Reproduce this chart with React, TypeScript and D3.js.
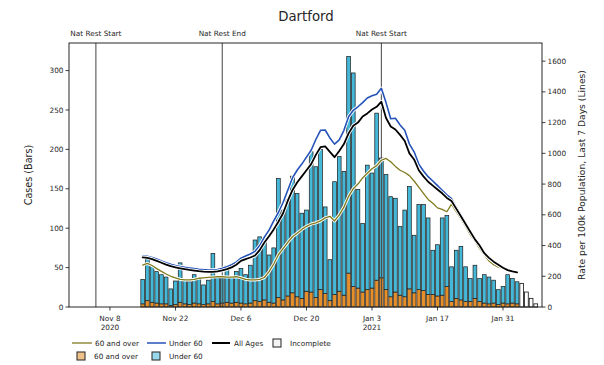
import React from 'react';
import * as d3 from 'd3';

// ---------- data ----------
const BAR_START = '2020-11-15';
const BAR_END = '2021-02-07';
const INCOMPLETE_FROM = '2021-02-04';

const casesUnder60 = [
  31, 53, 46, 40, 37, 34, 21, 30, 50, 31, 29, 36, 33, 25, 30, 61, 35, 33, 46, 33, 39,
  44, 37, 48, 77, 82, 74, 60, 70, 151, 114, 122, 148, 131, 108, 103, 178, 166, 178, 110,
  52, 143, 171, 157, 275, 271, 125, 87, 158, 146, 212, 152, 146, 127, 119, 87, 110, 130,
  73, 108, 109, 97, 56, 65, 98, 90, 44, 61, 68, 44, 29, 42, 29, 36, 34, 29, 19, 21, 37,
  31, 28, 27, 17, 9, 3,
];
const cases60Over = [
  4, 8, 6, 5, 4, 4, 2, 3, 6, 4, 3, 5, 4, 3, 4, 7, 4, 5, 6, 5, 6,
  5, 4, 5, 8, 7, 9, 6, 5, 12, 9, 14, 18, 13, 11, 20, 19, 12, 22, 17,
  8, 16, 20, 15, 43, 26, 24, 19, 22, 24, 34, 37, 22, 13, 19, 15, 13, 23,
  18, 22, 21, 16, 16, 14, 15, 26, 7, 11, 9, 7, 7, 11, 7, 5, 4, 5, 3, 5, 4,
  5, 4, 3, 2, 2, 1,
];

const LINE_START = '2020-11-15';
const LINE_END = '2021-02-03';
const rateAllAges = [
  323, 320, 312, 300, 288, 276, 266, 258, 252, 246, 241, 237, 233, 230, 229, 229, 232, 238,
  246, 258, 275, 300, 312, 322, 335, 370, 420, 460, 505, 555, 610, 690, 760, 810, 850, 890,
  930, 990, 1040, 1045, 1010, 975, 1015, 1060, 1130, 1180, 1200, 1240, 1260, 1285, 1303,
  1336, 1230, 1175, 1155, 1120, 1080, 1000, 960, 890, 850, 815, 790, 765, 740, 710, 690,
  640, 590, 540, 490, 440, 400, 350, 320, 295, 275, 255, 240, 232, 225,
];
const rateUnder60 = [
  332, 330, 322, 312, 300, 288, 278, 270, 264, 258, 254, 250, 246, 243, 241, 241, 244, 252,
  262, 275, 292, 318, 332, 345, 362, 400, 455, 500, 560, 615, 680, 760, 840, 890, 930, 975,
  1020, 1090, 1150, 1152, 1100, 1060, 1087, 1150, 1238, 1280, 1303, 1330, 1360, 1375, 1385,
  1423, 1330, 1225, 1228, 1185, 1150, 1060, 1010, 930, 885, 848, 820, 790, 760, 730, 705,
  650, 600, 548, 495, 445, 402, 352, 320, 295, 273, 254, 238, 230, 224,
];
const rate60Over = [
  273, 284, 270, 250, 232, 215, 200, 190, 180, 176, 176, 180, 187, 190, 193, 195, 197, 197,
  195, 195, 197, 190, 180, 176, 176, 180, 192, 230, 280, 340, 380, 420, 457, 480, 505, 525,
  540, 548, 560, 580, 590, 560, 600, 650, 720, 770, 800, 840, 870, 900, 920,
  955, 967, 945, 915, 890, 875, 855, 820, 780, 740, 700, 675, 645, 635, 620, 670,
  620, 575, 525, 470, 430, 380, 340, 300, 275, 260, 250, 238, 228, 220,
];

const restrictionDates = ['2020-11-05', '2020-12-02', '2021-01-05'];
const restrictionLabels = ['Nat Rest Start', 'Nat Rest End', 'Nat Rest Start'];

const xTickDates = ['2020-11-08', '2020-11-22', '2020-12-06', '2020-12-20', '2021-01-03', '2021-01-17', '2021-01-31'];
const leftTicks = [0, 50, 100, 150, 200, 250, 300];
const rightTicks = [0, 200, 400, 600, 800, 1000, 1200, 1400, 1600];

// ---------- layout ----------
const W = 604;
const H = 365;
const PL = 69, PR = 542, PT = 43, PB = 307;
const FONT = 'DejaVu Sans, sans-serif';
const TXT = '#262626';

const C_UNDER = '#45b8d8';
const C_OVER = '#e48f2a';
const L_UNDER = '#2452b8';
const L_OVER = '#807a1c';
const L_ALL = '#000000';

const parse = d3.utcParse('%Y-%m-%d');

export default function App() {
  const x = d3
    .scaleUtc()
    .domain([new Date(Date.UTC(2020, 9, 30, 6)), new Date(Date.UTC(2021, 1, 8, 8))])
    .range([PL, PR]);
  const yL = d3.scaleLinear().domain([0, 335]).range([PB, PT]);
  const yR = d3.scaleLinear().domain([0, 1718]).range([PB, PT]);

  const barDays = d3.utcDay.range(parse(BAR_START)!, d3.utcDay.offset(parse(BAR_END)!, 1));
  const lineDays = d3.utcDay.range(parse(LINE_START)!, d3.utcDay.offset(parse(LINE_END)!, 1));
  const incompleteFrom = parse(INCOMPLETE_FROM)!;
  const dayW = x(d3.utcDay.offset(barDays[0], 1)) - x(barDays[0]);
  const bw = dayW * 0.8;

  const mkLine = (vals: number[]) =>
    d3
      .line<number>()
      .x((_, i) => x(lineDays[i]))
      .y((v) => yR(v))(vals.slice(0, lineDays.length)) || '';

  const fmt = d3.utcFormat('%b %-d');

  const lines = [
    { vals: rate60Over, color: L_OVER, w: 1.3 },
    { vals: rateUnder60, color: L_UNDER, w: 1.6 },
    { vals: rateAllAges, color: L_ALL, w: 1.8 },
  ];

  return (
    <svg
      width={W}
      height={H}
      style={{ position: 'absolute', left: 0, top: 0, background: '#fff' }}
      fontFamily={FONT}
    >
      <rect x={0} y={0} width={W} height={H} fill="#fff" />
      {/* title */}
      <text x={306} y={21} fontSize={13.3} textAnchor="middle" fill={TXT}>
        Dartford
      </text>

      {/* bars */}
      <g>
        {barDays.map((d, i) => {
          const cx = x(d);
          const o = cases60Over[i];
          const u = casesUnder60[i];
          if (d >= incompleteFrom) {
            return (
              <rect
                key={i}
                x={cx - bw / 2}
                y={yL(o + u)}
                width={bw}
                height={yL(0) - yL(o + u)}
                fill="#ffffff"
                stroke="#111"
                strokeWidth={0.8}
              />
            );
          }
          return (
            <g key={i}>
              <rect
                x={cx - bw / 2}
                y={yL(o)}
                width={bw}
                height={yL(0) - yL(o)}
                fill={C_OVER}
                stroke="#222"
                strokeWidth={0.7}
              />
              <rect
                x={cx - bw / 2}
                y={yL(o + u)}
                width={bw}
                height={yL(o) - yL(o + u)}
                fill={C_UNDER}
                stroke="#1a1a1a"
                strokeWidth={0.7}
              />
            </g>
          );
        })}
      </g>

      {/* restriction lines */}
      {restrictionDates.map((s, i) => {
        const xx = x(parse(s)!);
        return (
          <g key={i}>
            <line x1={xx} x2={xx} y1={PT} y2={PB} stroke="#444" strokeWidth={1} />
            <text x={xx} y={36} fontSize={7.3} textAnchor="middle" fill={TXT}>
              {restrictionLabels[i]}
            </text>
          </g>
        );
      })}

      {/* lines with halo */}
      {lines.map((l, i) => (
        <g key={i} fill="none" strokeLinejoin="round" strokeLinecap="round">
          <path d={mkLine(l.vals)} stroke="#fff" strokeWidth={l.w + 1.8} />
          <path d={mkLine(l.vals)} stroke={l.color} strokeWidth={l.w} />
        </g>
      ))}

      {/* frame */}
      <rect x={PL} y={PT} width={PR - PL} height={PB - PT} fill="none" stroke="#111" strokeWidth={0.9} />

      {/* left axis */}
      {leftTicks.map((t) => (
        <g key={t}>
          <line x1={PL - 3.5} x2={PL} y1={yL(t)} y2={yL(t)} stroke="#111" strokeWidth={0.8} />
          <text x={PL - 5.5} y={yL(t) + 2.6} fontSize={7.3} textAnchor="end" fill={TXT}>
            {t}
          </text>
        </g>
      ))}
      <text
        transform={`translate(32,${(PT + PB) / 2}) rotate(-90)`}
        fontSize={9.6}
        textAnchor="middle"
        fill={TXT}
      >
        Cases (Bars)
      </text>

      {/* right axis */}
      {rightTicks.map((t) => (
        <g key={t}>
          <line x1={PR} x2={PR + 3.5} y1={yR(t)} y2={yR(t)} stroke="#111" strokeWidth={0.8} />
          <text x={PR + 5.5} y={yR(t) + 2.6} fontSize={7.3} textAnchor="start" fill={TXT}>
            {t}
          </text>
        </g>
      ))}
      <text
        transform={`translate(585,${(PT + PB) / 2}) rotate(-90)`}
        fontSize={9.2}
        textAnchor="middle"
        fill={TXT}
      >
        Rate per 100k Population, Last 7 Days (Lines)
      </text>

      {/* x axis */}
      {xTickDates.map((s, i) => {
        const d = parse(s)!;
        const xx = x(d);
        const showYear = i === 0 || (d.getUTCMonth() === 0 && d.getUTCDate() <= 7);
        return (
          <g key={s}>
            <line x1={xx} x2={xx} y1={PB} y2={PB + 3.5} stroke="#111" strokeWidth={0.8} />
            <text x={xx} y={321} fontSize={7.3} textAnchor="middle" fill={TXT}>
              {fmt(d)}
            </text>
            {showYear && (
              <text x={xx} y={330} fontSize={7.3} textAnchor="middle" fill={TXT}>
                {d3.utcFormat('%Y')(d)}
              </text>
            )}
          </g>
        );
      })}

      {/* legend */}
      <g fontSize={7.3} fill={TXT}>
        <line x1={72} x2={92} y1={343} y2={343} stroke={L_OVER} strokeWidth={1.3} />
        <text x={95} y={345.6}>60 and over</text>
        <line x1={147} x2={166} y1={343} y2={343} stroke={L_UNDER} strokeWidth={1.5} />
        <text x={169} y={345.6}>Under 60</text>
        <line x1={212} x2={230} y1={343} y2={343} stroke={L_ALL} strokeWidth={2} />
        <text x={234} y={345.6}>All Ages</text>
        <rect x={273} y={339} width={8} height={8} fill="#f4f4f4" stroke="#333" strokeWidth={1.1} />
        <text x={290} y={345.6}>Incomplete</text>

        <rect x={77} y={352} width={8} height={8} fill={C_OVER} fillOpacity={0.55} stroke="#333" strokeWidth={1.1} />
        <text x={94} y={358.6}>60 and over</text>
        <rect x={152} y={352} width={8} height={8} fill={C_UNDER} fillOpacity={0.55} stroke="#333" strokeWidth={1.1} />
        <text x={169} y={358.6}>Under 60</text>
      </g>
    </svg>
  );
}
